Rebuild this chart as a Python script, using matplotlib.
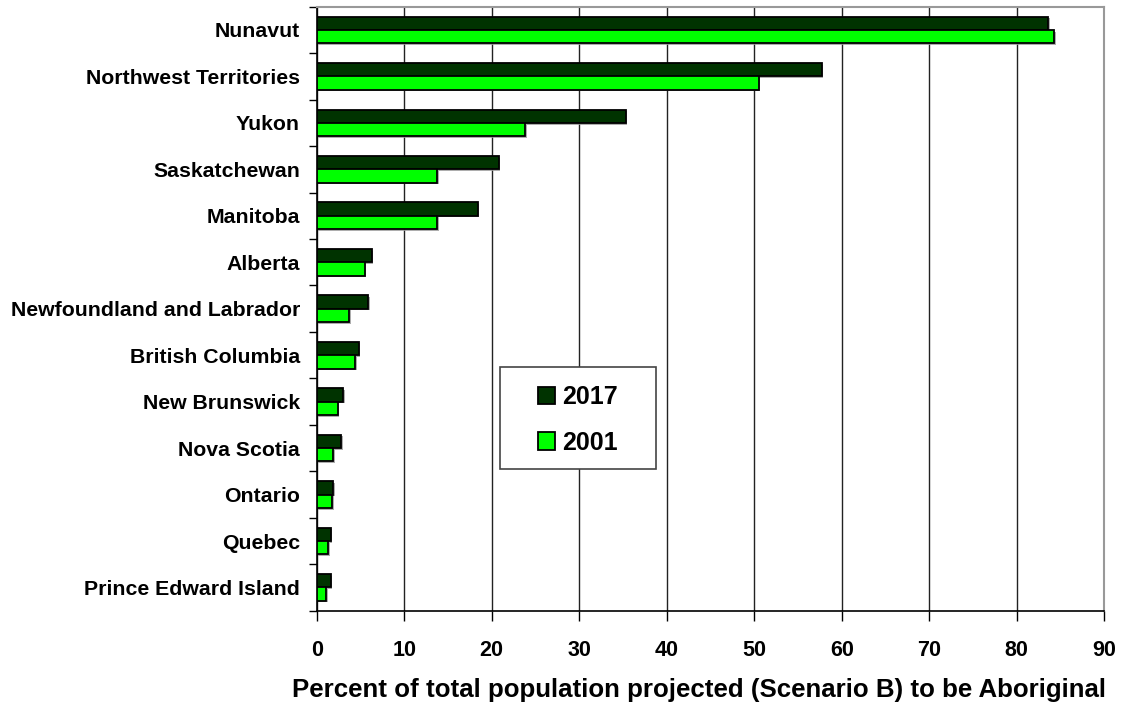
import matplotlib
matplotlib.use("Agg")
import matplotlib.pyplot as plt
import matplotlib.patheffects as pe
from matplotlib.patches import Rectangle
import numpy as np

plt.rcParams['font.family'] = ['Liberation Sans', 'DejaVu Sans']
plt.rcParams['font.weight'] = 'bold'

provinces = [
    "Nunavut", "Northwest Territories", "Yukon", "Saskatchewan", "Manitoba",
    "Alberta", "Newfoundland and Labrador", "British Columbia", "New Brunswick",
    "Nova Scotia", "Ontario", "Quebec", "Prince Edward Island",
]
pct_2017 = [83.6, 57.7, 35.3, 20.8, 18.4, 6.3, 5.9, 4.8, 3.0, 2.8, 1.9, 1.6, 1.6]
pct_2001 = [84.3, 50.5, 23.8, 13.8, 13.8, 5.5, 3.7, 4.4, 2.4, 1.9, 1.8, 1.3, 1.1]
x_ticks = [0, 10, 20, 30, 40, 50, 60, 70, 80, 90]

dark = "#003300"
bright = "#00ff00"

fig = plt.figure(figsize=(11.23, 7.04), dpi=100)
ax = fig.add_axes([0.282, 0.1325, 0.7013, 0.858])

n = len(provinces)
y = np.arange(n)
h = 0.287
shadow = [pe.SimplePatchShadow(offset=(1.2, -1.2), shadow_rgbFace="#999999", alpha=0.8), pe.Normal()]

b1 = ax.barh(y - h / 2, pct_2017, height=h, color=dark, edgecolor="black",
             linewidth=1.3, label="2017", zorder=3)
b2 = ax.barh(y + h / 2, pct_2001, height=h, color=bright, edgecolor="black",
             linewidth=1.3, label="2001", zorder=3)
for bar in list(b1) + list(b2):
    bar.set_path_effects(shadow)

ax.set_ylim(n - 0.5, -0.5)
ax.set_xlim(0, 90)
ax.set_xticks(x_ticks)
ax.set_xticklabels([str(t) for t in x_ticks], fontsize=15.5, fontweight='bold')
ax.set_yticks(y)
ax.set_yticklabels(provinces, fontsize=15.3, fontweight='bold')
ax.set_yticks(np.arange(n + 1) - 0.5, minor=True)
ax.tick_params(axis='y', which='major', length=0, pad=12)
ax.tick_params(axis='y', which='minor', length=6, width=1, direction='out')
ax.tick_params(axis='x', which='major', length=7, width=1, direction='out', pad=14)

ax.grid(axis='x', color='#222222', linewidth=1, zorder=0)
ax.set_axisbelow(True)

for side in ("top", "right"):
    ax.spines[side].set_color("#999999")
    ax.spines[side].set_linewidth(1.5)
for side in ("left", "bottom"):
    ax.spines[side].set_color("black")
    ax.spines[side].set_linewidth(1.2)

ax.set_xlabel("Percent of total population projected (Scenario B) to be Aboriginal",
              fontsize=18.6, fontweight='bold', labelpad=12, x=0.485)

# legend box drawn separately so its padding can be set independently
ax.add_patch(Rectangle((0.2327, 0.2351), 0.1982, 0.1689, transform=ax.transAxes,
                       facecolor="white", edgecolor="#444444", linewidth=1.2,
                       zorder=5))
leg = ax.legend(loc='center', bbox_to_anchor=(0.3318, 0.3156),
                prop={'size': 18, 'weight': 'bold'}, frameon=False,
                handlelength=0.68, handleheight=0.68, handletextpad=0.27,
                labelspacing=0.85, borderpad=0.3, borderaxespad=0)
leg.set_zorder(6)
for patch in leg.get_patches():
    patch.set_path_effects([])

fig.savefig("out.png", dpi=100)
